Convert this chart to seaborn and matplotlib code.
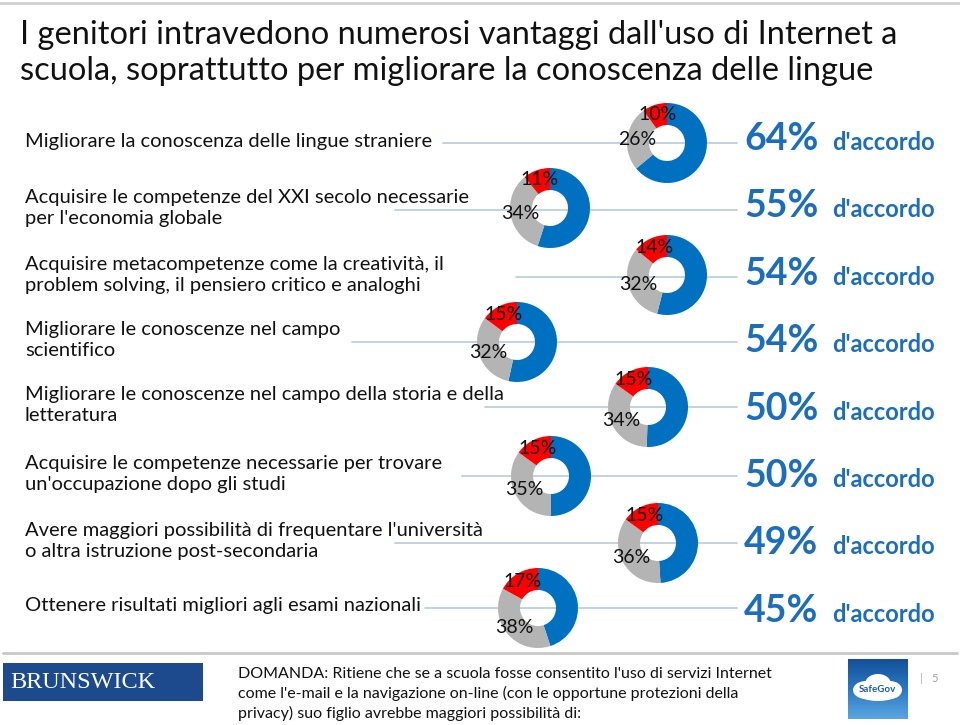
import numpy as np
import matplotlib
matplotlib.use("Agg")
import matplotlib.pyplot as plt
from matplotlib.patches import Rectangle, Ellipse
from matplotlib.colors import LinearSegmentedColormap
import seaborn as sns

# dati (percentuali)
categorie = [
    "Migliorare la conoscenza delle lingue straniere",
    "Acquisire le competenze del XXI secolo necessarie\nper l'economia globale",
    "Acquisire metacompetenze come la creatività, il\nproblem solving, il pensiero critico e analoghi",
    "Migliorare le conoscenze nel campo\nscientifico",
    "Migliorare le conoscenze nel campo della storia e della\nletteratura",
    "Acquisire le competenze necessarie per trovare\nun'occupazione dopo gli studi",
    "Avere maggiori possibilità di frequentare l'università\no altra istruzione post-secondaria",
    "Ottenere risultati migliori agli esami nazionali",
]
accordo = [64, 55, 54, 54, 50, 50, 49, 45]
neutro = [26, 34, 32, 32, 34, 35, 36, 38]
disaccordo = [10, 11, 14, 15, 15, 15, 15, 17]

titolo = ("I genitori intravedono numerosi vantaggi dall'uso di Internet a\n"
          "scuola, soprattutto per migliorare la conoscenza delle lingue")
domanda = ("DOMANDA: Ritiene che se a scuola fosse consentito l'uso di servizi Internet\n"
           "come l'e-mail e la navigazione on-line (con le opportune protezioni della\n"
           "privacy) suo figlio avrebbe maggiori possibilità di:")

# layout in pixel (figura 960x725)
riga_y = [143, 210, 277, 342, 407, 476, 543, 608]
linea_x0 = [443, 395, 516, 352, 485, 462, 395, 425]
ciambella_x = [667, 550, 667, 517, 648, 551, 658, 538]
ciambella_y = [143, 208, 275, 342, 407, 476, 543, 608]

sns.set_theme(style="white")
plt.rcParams["font.family"] = ["Lato", "DejaVu Sans"]

colori = ["#0070c0", "#b4b4b4", "#ff0000"]
blu_testo = "#1b6ebd"

W, H = 960, 725
fig = plt.figure(figsize=(W / 100, H / 100), dpi=100)
fig.patch.set_facecolor("white")

bg = fig.add_axes([0, 0, 1, 1])
bg.set_xlim(0, W)
bg.set_ylim(H, 0)
bg.axis("off")

# bordo in alto
bg.plot([0, W], [3, 3], color="#d0d0d0", lw=2)

# titolo
bg.text(20, 53, titolo, fontsize=23.5, ha="left", va="center", color="#111111", linespacing=1.28)

# righe, etichette e testo di destra
for i, cat in enumerate(categorie):
    y = riga_y[i]
    bg.plot([linea_x0[i], 737], [y, y], color="#bcd0e0", lw=1.3, zorder=1)
    bg.text(25, y - 2, cat, fontsize=14.5, ha="left", va="center", color="#111111", linespacing=1.3)
    base = 150 + 67.4 * i
    bg.text(744, base, f"{accordo[i]}%", fontsize=27, fontweight="bold", color=blu_testo,
            ha="left", va="baseline")
    bg.text(935, base, "d'accordo", fontsize=17, fontweight="bold", color=blu_testo,
            ha="right", va="baseline")

# ciambelle
for i in range(len(categorie)):
    cx, cy = ciambella_x[i], ciambella_y[i]
    ax = fig.add_axes([(cx - 50) / W, 1 - (cy + 50) / H, 100 / W, 100 / H])
    ax.patch.set_alpha(0)
    valori = [accordo[i], neutro[i], disaccordo[i]]
    wedges, testi, pct = ax.pie(valori, colors=colori, startangle=90, counterclock=False,
                                wedgeprops=dict(width=0.55, edgecolor="none"),
                                autopct="%.0f%%", pctdistance=0.76,
                                textprops=dict(color="#111111", fontsize=14))
    pct[0].set_visible(False)

# piè di pagina
bg.plot([3, 957], [653, 653], color="#c8c8c8", lw=2)
bg.add_patch(Rectangle((3, 663), 200, 38, facecolor="#1c4a8c", edgecolor="none"))
bg.text(10, 683, "BRUNSWICK", family="Liberation Serif", fontsize=17.5, color="white",
        ha="left", va="center")
bg.text(238, 694, domanda, fontsize=11.5, ha="left", va="center", color="#111111", linespacing=1.4)

# logo SafeGov
grad = np.linspace(0, 1, 64).reshape(-1, 1)
cmap_logo = LinearSegmentedColormap.from_list("logo", ["#15509a", "#2a78c2", "#5aa6e0"])
bg.imshow(grad, cmap=cmap_logo, extent=(848, 908, 719, 659), aspect="auto", zorder=2)
for ex, ey, ew, eh in [(866, 690, 26, 18), (878, 684, 26, 20), (890, 690, 24, 18), (878, 694, 40, 14)]:
    bg.add_patch(Ellipse((ex, ey), ew, eh, facecolor="white", edgecolor="none", zorder=3))
bg.text(877, 690, "SafeGov", fontsize=7, fontweight="bold", color="#1c5ca8",
        ha="center", va="center", zorder=4)
bg.set_xlim(0, W)
bg.set_ylim(H, 0)
bg.text(920, 679, "|", fontsize=8, color="#b0b0b0", ha="left", va="center")
bg.text(931, 679, "5", fontsize=8, color="#a0a0a0", ha="left", va="center")

fig.savefig("out.png", dpi=100)
